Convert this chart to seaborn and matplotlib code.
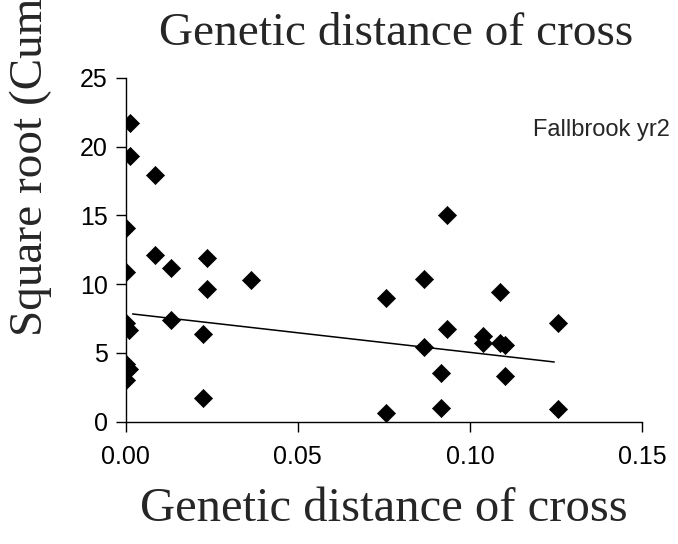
import matplotlib
matplotlib.use("Agg")
import matplotlib.pyplot as plt
import seaborn as sns
import numpy as np
import pandas as pd

# Data
genetic_distance = [0.0013, 0.0013, 0.0085, 0.0, 0.0085, 0.0132, 0.0235, 0.0,
                    0.0363, 0.0235, 0.0, 0.0010, 0.0132, 0.0225, 0.0, 0.0010,
                    0.0, 0.0225, 0.0756, 0.0756, 0.0868, 0.0868, 0.0934, 0.0934,
                    0.0916, 0.0916, 0.1037, 0.1037, 0.1087, 0.1087, 0.1103, 0.1103,
                    0.1255, 0.1255]
sqrt_cum = [21.7, 19.3, 17.9, 14.1, 12.1, 11.2, 11.9, 10.9,
            10.3, 9.65, 7.2, 6.7, 7.4, 6.35, 4.2, 3.8,
            3.05, 1.7, 8.97, 0.6, 10.35, 5.4, 15.0, 6.75,
            3.55, 1.0, 6.2, 5.75, 9.4, 5.7, 5.55, 3.3,
            7.15, 0.9]
# Trend line as drawn in the reference (end points)
trend_x = [0.002, 0.1245]
trend_y = [7.83, 4.34]
x_ticks = [0.00, 0.05, 0.10, 0.15]
x_tick_labels = ["0.00", "0.05", "0.10", "0.15"]
y_ticks = [0, 5, 10, 15, 20, 25]

df = pd.DataFrame({"x": genetic_distance, "y": sqrt_cum})
trend = pd.DataFrame({"x": trend_x, "y": trend_y})

sns.set_style("ticks")
plt.rcParams["font.family"] = ["Liberation Sans", "DejaVu Sans"]

W, H = 678, 544
fig = plt.figure(figsize=(W / 100, H / 100), dpi=100)
ax = fig.add_axes([125.7 / W, 1 - 421.7 / H, (642 - 125.7) / W, (421.7 - 77.7) / H])

sns.lineplot(data=trend, x="x", y="y", ax=ax, color="black", linewidth=1.1,
             estimator=None)
sns.scatterplot(data=df, x="x", y="y", ax=ax, marker="D", s=85, color="black",
                edgecolor="black", linewidth=0.5, zorder=3)

ax.set_xlim(0, 0.15)
ax.set_ylim(0, 25)
ax.set_xticks(x_ticks)
ax.set_xticklabels(x_tick_labels)
ax.set_yticks(y_ticks)
ax.tick_params(axis="both", labelsize=18, length=7, width=1.0, color="black",
               labelcolor="black", direction="out")
ax.tick_params(axis="x", pad=10)
ax.tick_params(axis="y", pad=6)
sns.despine(ax=ax)
for s in ["left", "bottom"]:
    ax.spines[s].set_linewidth(1.0)
    ax.spines[s].set_color("black")
ax.set_xlabel("")
ax.set_ylabel("")

serif = ["Liberation Serif", "DejaVu Serif"]
fig.text(396 / W, 1 - 45 / H, "Genetic distance of cross", family=serif,
         fontsize=34, ha="center", va="baseline")
fig.text(384 / W, 1 - 521 / H, "Genetic distance of cross", family=serif,
         fontsize=35, ha="center", va="baseline")
fig.text(31 / W, 1 - 336 / H, "Square root (Cumulative yield)", family=serif,
         fontsize=34, ha="center", va="bottom", rotation=90)
fig.text(670 / W, 1 - 136 / H, "Fallbrook yr2", fontsize=17, ha="right",
         va="baseline")

fig.savefig("out.png", dpi=100)
